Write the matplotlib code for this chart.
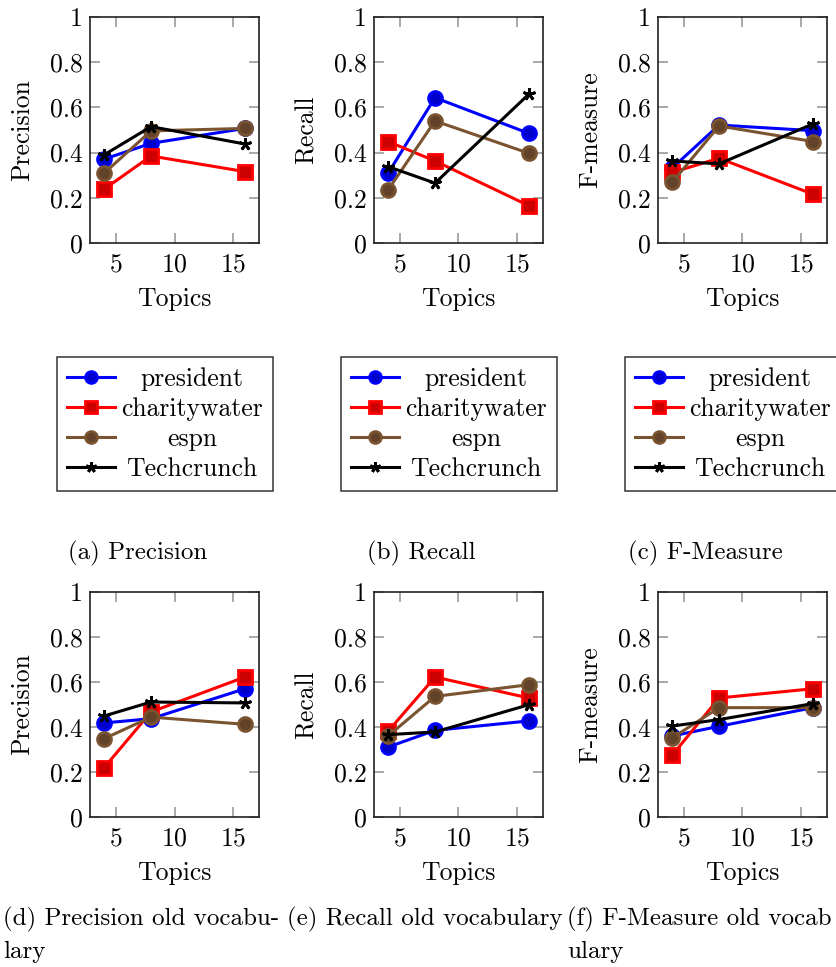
import matplotlib.pyplot as plt
import numpy as np

plt.rcParams['font.family'] = 'cmr10'
plt.rcParams['mathtext.fontset'] = 'cm'
plt.rcParams['axes.formatter.use_mathtext'] = True

topics = [4, 8, 16]
names = ['president', 'charitywater', 'espn', 'Techcrunch']
yticks = [0, 0.2, 0.4, 0.6, 0.8, 1]
ytick_labels = ['0', '0.2', '0.4', '0.6', '0.8', '1']
xticks = [5, 10, 15]

# rows follow `names`
precision = [[0.371, 0.441, 0.507],
             [0.238, 0.385, 0.316],
             [0.309, 0.496, 0.507],
             [0.390, 0.515, 0.438]]
recall = [[0.309, 0.643, 0.485],
          [0.449, 0.363, 0.165],
          [0.235, 0.540, 0.397],
          [0.338, 0.265, 0.659]]
fmeasure = [[0.331, 0.522, 0.497],
            [0.312, 0.375, 0.216],
            [0.268, 0.518, 0.449],
            [0.363, 0.350, 0.527]]
precision_old = [[0.418, 0.437, 0.570],
                 [0.219, 0.467, 0.622],
                 [0.348, 0.444, 0.412],
                 [0.449, 0.511, 0.507]]
recall_old = [[0.311, 0.385, 0.427],
              [0.381, 0.622, 0.529],
              [0.360, 0.536, 0.588],
              [0.366, 0.378, 0.499]]
fmeasure_old = [[0.360, 0.403, 0.486],
                [0.274, 0.529, 0.570],
                [0.351, 0.486, 0.486],
                [0.404, 0.433, 0.504]]

line_colors = ['#0000ff', '#ff0000', '#7a5431', '#000000']
fill_colors = ['#0000cc', '#cc0000', '#62432a', '#000000']
markers = ['o', 's', 'o', (5, 2, 0)]

W, H = 837, 967
FS = 18.5
CAP_FS = 18


def px_rect(x0, y0, x1, y1):
    return [x0 / W, 1 - y1 / H, (x1 - x0) / W, (y1 - y0) / H]


def panel(fig, rect, data, ylabel):
    ax = fig.add_axes(rect)
    for i, name in enumerate(names):
        ax.plot(topics, data[i], color=line_colors[i], lw=2.2,
                marker=markers[i], markersize=10 if i < 3 else 9,
                markerfacecolor=fill_colors[i],
                markeredgecolor=line_colors[i], markeredgewidth=2,
                label=name)
    ax.set_xlim(2.8, 17.2)
    ax.set_ylim(0, 1)
    ax.set_yticks(yticks)
    ax.set_yticklabels(ytick_labels)
    ax.set_xticks(xticks)
    ax.tick_params(direction='in', length=7, width=1.2, color='#999999',
                   top=True, right=True, labelsize=FS, labelcolor='black')
    ax.tick_params(axis='x', pad=7)
    ax.tick_params(axis='y', pad=5)
    for s in ax.spines.values():
        s.set_linewidth(1.2)
        s.set_color('#222222')
    ax.set_xlabel('Topics', fontsize=FS)
    ax.xaxis.label.set_va('center')
    ax.xaxis.set_label_coords(0.5, -0.25)
    ax.set_ylabel(ylabel, fontsize=FS)
    ax.yaxis.label.set_va('center')
    ax.yaxis.set_label_coords(-0.40, 0.5)
    return ax


fig = plt.figure(figsize=(W / 100, H / 100), dpi=100)
fig.patch.set_facecolor('white')

top_x = [90, 374, 658]
tops = [(precision, 'Precision'), (recall, 'Recall'), (fmeasure, 'F-measure')]
bottoms = [(precision_old, 'Precision'), (recall_old, 'Recall'), (fmeasure_old, 'F-measure')]

legends = []
for x0, (d, lab) in zip(top_x, tops):
    ax = panel(fig, px_rect(x0, 17, x0 + 169, 243), d, lab)
    leg = ax.legend(loc='upper left', bbox_to_anchor=((x0 - 33) / W, 1 - 357 / H),
                    bbox_transform=fig.transFigure, borderaxespad=0,
                    fontsize=FS, handlelength=1.85, handletextpad=0.25,
                    labelspacing=0.24, borderpad=0.4, fancybox=False,
                    framealpha=1, edgecolor='#333333', markerscale=0.85)
    leg.get_frame().set_linewidth(1.1)
    legends.append(leg)

for x0, (d, lab) in zip(top_x, bottoms):
    panel(fig, px_rect(x0, 592, x0 + 169, 817), d, lab)

captions = [(68, 553, '(a) Precision'), (367, 553, '(b) Recall'),
            (628, 553, '(c) F-Measure'),
            (3, 919, '(d) Precision old vocabu-'), (3, 952, 'lary'),
            (287, 919, '(e) Recall old vocabulary'),
            (567, 919, '(f) F-Measure old vocab'), (567, 952, 'ulary')]
for x, y, s in captions:
    fig.text(x / W, 1 - y / H, s, fontsize=CAP_FS, ha='left', va='center')

# centre the legend labels like pgfplots does
fig.canvas.draw()
r = fig.canvas.get_renderer()
for leg in legends:
    texts = leg.get_texts()
    widths = [t.get_window_extent(r).width for t in texts]
    mw = max(widths)
    for t, w in zip(texts, widths):
        t.set_x((mw - w) / 2)

fig.savefig('out.png', dpi=100, facecolor='white')
